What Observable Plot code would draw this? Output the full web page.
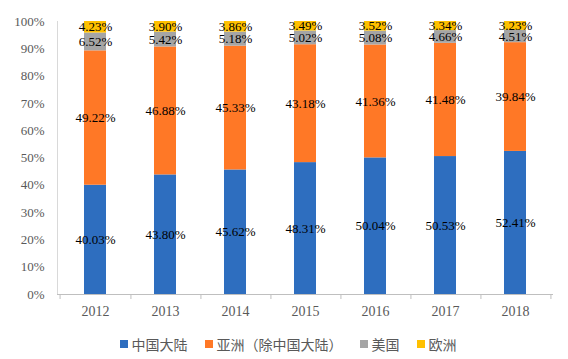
<!DOCTYPE html>
<html>
<head>
<meta charset="utf-8">
<script src="https://cdn.jsdelivr.net/npm/d3@7"></script>
<script src="https://cdn.jsdelivr.net/npm/@observablehq/plot@0.6"></script>
<style>
  html, body { margin: 0; padding: 0; background: #fff; }
  #wrap { position: relative; width: 568px; height: 359px; overflow: hidden; }
  #chart svg, #chart svg text { font-family: "Liberation Serif", "Noto Sans CJK SC", serif !important; }
  #legend { position: absolute; left: 0; top: 334px; width: 568px; display: flex; justify-content: center; font-family: "Liberation Serif", "Noto Sans CJK SC", serif; font-size: 14px; color: #595959; padding-left: 8px; box-sizing: border-box; }
  .item { display: flex; align-items: center; margin-right: 17px; white-space: nowrap; }
  .item:last-child { margin-right: 0; }
  .sw { width: 8px; height: 8px; margin-right: 4px; }
</style>
</head>
<body>
<div id="wrap">
  <div id="chart"></div>
  <div id="legend"></div>
</div>
<script>
const years = ["2012", "2013", "2014", "2015", "2016", "2017", "2018"];
const seriesNames = ["中国大陆", "亚洲（除中国大陆）", "美国", "欧洲"];
const seriesColors = ["#2E6EBF", "#FF7826", "#A5A5A5", "#FFC000"];
const chinaMainland = [40.03, 43.80, 45.62, 48.31, 50.04, 50.53, 52.41];
const asiaExChina = [49.22, 46.88, 45.33, 43.18, 41.36, 41.48, 39.84];
const usa = [6.52, 5.42, 5.18, 5.02, 5.08, 4.66, 4.51];
const europe = [4.23, 3.90, 3.86, 3.49, 3.52, 3.34, 3.23];
const yTicks = [0, 10, 20, 30, 40, 50, 60, 70, 80, 90, 100];

const seriesValues = [chinaMainland, asiaExChina, usa, europe];
const rows = [];
seriesNames.forEach((s, si) => {
  years.forEach((yr, i) => rows.push({year: yr, series: s, value: seriesValues[si][i]}));
});

const W = 568, H = 318, mL = 57, mR = 15, mT = 21, mB = 24;
const step = (W - mL - mR) / years.length;
const font = '"Liberation Serif", "Noto Sans CJK SC", serif';

const chart = Plot.plot({
  width: W,
  height: H,
  marginLeft: mL,
  marginRight: mR,
  marginTop: mT,
  marginBottom: mB,
  style: {fontFamily: font, fontSize: "13px", background: "#fff"},
  x: {domain: years, paddingInner: 0.69, paddingOuter: 0.345, label: null},
  y: {domain: [0, 100], label: null},
  color: {domain: seriesNames, range: seriesColors},
  marks: [
    Plot.barY(rows, Plot.stackY({x: "year", y: "value", fill: "series", z: "series", order: seriesNames})),
    Plot.frame({anchor: "left", stroke: "#d9d9d9"}),
    Plot.ruleY([0], {stroke: "#bfbfbf"}),
    Plot.ruleX(years, {x: d => d, y1: 0, y2: 0, dx: step / 2, insetBottom: -5, stroke: "#bfbfbf"}),
    Plot.ruleX([years[0]], {x: d => d, y1: 0, y2: 0, dx: -step / 2, insetBottom: -5, stroke: "#bfbfbf"}),
    Plot.axisY({ticks: yTicks, tickSize: 0, tickPadding: 13, tickFormat: d => d + "%", fill: "#595959", fontSize: "13px", label: null}),
    Plot.axisX({tickSize: 0, tickPadding: 12, fill: "#595959", fontSize: "14px", label: null}),
    Plot.text(rows, Plot.stackY({x: "year", y: "value", z: "series", order: seriesNames, text: d => d.value.toFixed(2) + "%", fill: "#000", fontSize: 13}))
  ]
});
document.getElementById("chart").appendChild(chart);

const legend = document.getElementById("legend");
seriesNames.forEach((s, i) => {
  const it = document.createElement("div");
  it.className = "item";
  const sw = document.createElement("span");
  sw.className = "sw";
  sw.style.background = seriesColors[i];
  const tx = document.createElement("span");
  tx.textContent = s;
  it.appendChild(sw);
  it.appendChild(tx);
  legend.appendChild(it);
});
</script>
</body>
</html>
